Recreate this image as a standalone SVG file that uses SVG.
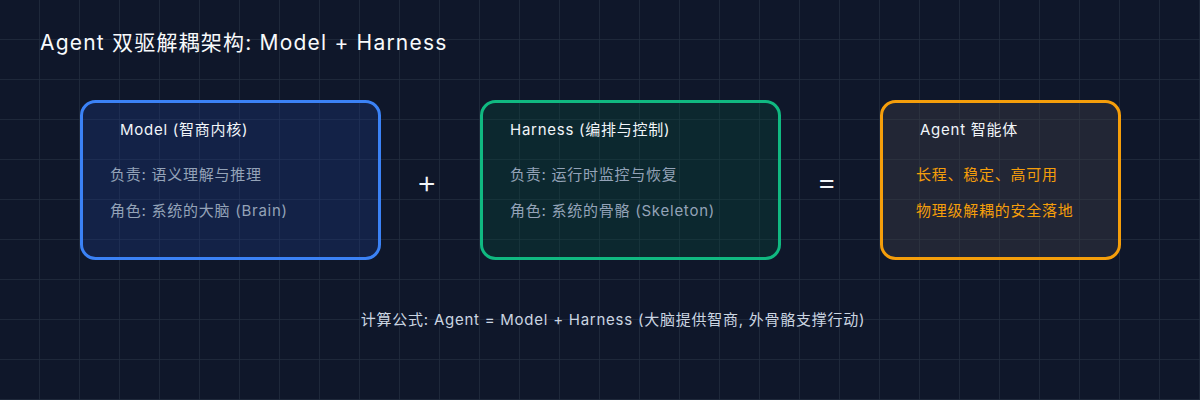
<svg xmlns="http://www.w3.org/2000/svg" width="1200" height="400" viewBox="0 0 1200 400">
<defs>
<pattern id="grid" width="40" height="40" patternUnits="userSpaceOnUse">
<path d="M40 0V40M0 40H40" fill="none" stroke="#222d40" stroke-width="1.5"/>
</pattern>
<style>
text{font-family:Inter,"Noto Sans CJK SC",sans-serif;letter-spacing:0.75px}
.box{stroke-width:3}
.h{fill:#f1f5f9;font-size:15px}
.d{fill:#94a3b8;font-size:15px}
.o{fill:#f59e0b;font-size:15px}
.op{fill:#f1f5f9;font-size:32px;font-weight:300;text-anchor:middle}
</style>
</defs>
<rect width="1200" height="400" fill="#0f172a"/>
<rect width="1200" height="400" fill="url(#grid)"/>
<text x="40" y="50" fill="#f8fafc" font-size="21" style="letter-spacing:1.2px">Agent 双驱解耦架构: Model + Harness</text>
<g id="model">
<rect class="box" x="81.5" y="101.5" width="298" height="157" rx="14" fill="#1e3a8a" fill-opacity="0.3" stroke="#3b82f6"/>
<text class="h" x="120" y="135">Model (智商内核)</text>
<text class="d" x="110" y="180">负责: 语义理解与推理</text>
<text class="d" x="110" y="216">角色: 系统的大脑 (Brain)</text>
</g>
<g id="harness">
<rect class="box" x="481.5" y="101.5" width="298" height="157" rx="14" fill="#064e3b" fill-opacity="0.3" stroke="#10b981"/>
<text class="h" x="510" y="135">Harness (编排与控制)</text>
<text class="d" x="510" y="180">负责: 运行时监控与恢复</text>
<text class="d" x="510" y="216">角色: 系统的骨骼 (Skeleton)</text>
</g>
<g id="agent">
<rect class="box" x="881.5" y="101.5" width="238" height="157" rx="14" fill="#3f3f46" fill-opacity="0.4" stroke="#f59e0b"/>
<text class="h" x="920" y="135">Agent 智能体</text>
<text class="o" x="916" y="180">长程、稳定、高可用</text>
<text class="o" x="916" y="216">物理级解耦的安全落地</text>
</g>
<g id="connectors">
<text class="op" x="427" y="193">+</text>
<text class="op" x="827" y="193">=</text>
</g>
<text x="613" y="325" fill="#cbd5e1" font-size="15" text-anchor="middle">计算公式: Agent = Model + Harness (大脑提供智商, 外骨骼支撑行动)</text>
</svg>
